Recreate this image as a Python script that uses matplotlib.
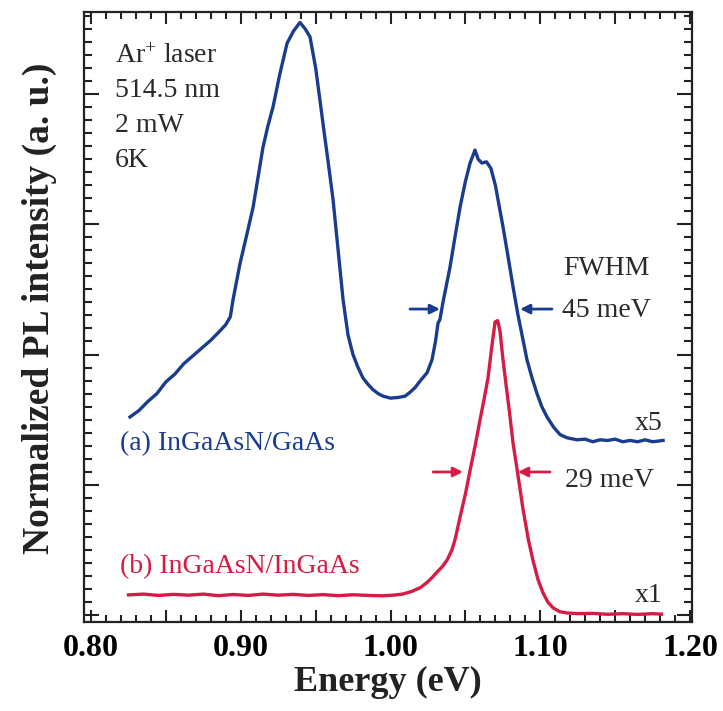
import matplotlib
matplotlib.use("Agg")
import matplotlib.pyplot as plt
from matplotlib.ticker import MultipleLocator, FixedLocator, FuncFormatter, NullFormatter

plt.rcParams["font.family"] = ["Liberation Serif", "DejaVu Serif"]
plt.rcParams["mathtext.fontset"] = "custom"
plt.rcParams["mathtext.rm"] = "Liberation Serif"
plt.rcParams["mathtext.it"] = "Liberation Serif:italic"
plt.rcParams["mathtext.bf"] = "Liberation Serif:bold"

# (a) InGaAsN/GaAs, scaled x5 and offset
energy_a = [0.826, 0.832, 0.838, 0.844, 0.850, 0.856, 0.862, 0.868, 0.874, 0.880,
            0.886, 0.890, 0.893, 0.8948, 0.8995, 0.904, 0.9082, 0.9115, 0.9148, 0.918,
            0.9215, 0.926, 0.9309, 0.935, 0.9395, 0.943, 0.9462, 0.950, 0.9529, 0.9555,
            0.9582, 0.9616, 0.965, 0.9683, 0.9716, 0.9749, 0.9783, 0.9816, 0.985, 0.9883,
            0.9917, 0.995, 1.000, 1.005, 1.0097, 1.013, 1.0163, 1.020, 1.0244, 1.0277,
            1.030, 1.0317, 1.033, 1.035, 1.0397, 1.043, 1.0464, 1.050, 1.0531, 1.0564,
            1.0585, 1.061, 1.064, 1.067, 1.070, 1.0751, 1.0785, 1.0818, 1.085, 1.0885,
            1.0911, 1.0945, 1.0978, 1.101, 1.1045, 1.109, 1.1132, 1.118, 1.1245, 1.130,
            1.135, 1.140, 1.145, 1.150, 1.155, 1.160, 1.165, 1.170, 1.175, 1.182]
intensity_a = [1.52, 1.57, 1.64, 1.70, 1.79, 1.85, 1.93, 1.99, 2.05, 2.11,
               2.18, 2.23, 2.29, 2.42, 2.70, 2.92, 3.13, 3.36, 3.59, 3.75,
               3.90, 4.15, 4.39, 4.48, 4.55, 4.50, 4.44, 4.20, 3.95, 3.72,
               3.49, 3.19, 2.80, 2.42, 2.15, 2.00, 1.90, 1.82, 1.77, 1.73,
               1.70, 1.68, 1.665, 1.67, 1.68, 1.71, 1.745, 1.80, 1.86, 1.96,
               2.10, 2.24, 2.27, 2.40, 2.67, 2.90, 3.13, 3.33, 3.47, 3.57,
               3.50, 3.47, 3.48, 3.43, 3.30, 2.98, 2.75, 2.52, 2.31, 2.11,
               1.96, 1.82, 1.70, 1.60, 1.52, 1.44, 1.385, 1.36, 1.345, 1.35,
               1.33, 1.345, 1.34, 1.35, 1.33, 1.34, 1.33, 1.345, 1.33, 1.34]

# (b) InGaAsN/InGaAs, x1
energy_b = [0.825, 0.835, 0.845, 0.855, 0.865, 0.875, 0.885, 0.895, 0.905, 0.915,
            0.925, 0.935, 0.945, 0.955, 0.965, 0.975, 0.985, 0.995, 1.002, 1.008,
            1.014, 1.020, 1.0244, 1.028, 1.0311, 1.0345, 1.0377, 1.041, 1.0431, 1.0464,
            1.050, 1.0531, 1.0565, 1.0598, 1.0625, 1.0651, 1.0675, 1.0698, 1.0715, 1.0731,
            1.0751, 1.077, 1.0795, 1.0818, 1.085, 1.0885, 1.092, 1.0951, 1.0985, 1.1018,
            1.105, 1.1085, 1.113, 1.118, 1.125, 1.135, 1.145, 1.155, 1.165, 1.175, 1.181]
intensity_b = [0.154, 0.160, 0.150, 0.158, 0.152, 0.160, 0.148, 0.157, 0.150, 0.160,
               0.152, 0.158, 0.150, 0.156, 0.148, 0.155, 0.150, 0.147, 0.152, 0.160,
               0.180, 0.210, 0.250, 0.290, 0.330, 0.370, 0.420, 0.500, 0.580, 0.750,
               0.930, 1.110, 1.300, 1.500, 1.660, 1.820, 2.050, 2.250, 2.260, 2.180,
               1.960, 1.780, 1.550, 1.320, 1.080, 0.810, 0.580, 0.420, 0.270, 0.170,
               0.100, 0.055, 0.025, 0.015, 0.010, 0.012, 0.005, 0.010, 0.004, 0.010, 0.006]

x_ticks = [0.80, 0.90, 1.00, 1.10, 1.20]

blue = "#1a3c8e"
red = "#d61c44"

fig = plt.figure(figsize=(7.23, 7.11), dpi=100)
ax = fig.add_axes([0.1162, 0.1252, 0.8409, 0.8579])

ax.plot(energy_a, intensity_a, color=blue, lw=2.4, solid_joinstyle="round")
ax.plot(energy_b, intensity_b, color=red, lw=2.4, solid_joinstyle="round")

ax.set_xlim(0.7953, 1.2013)
ax.set_ylim(-0.054, 4.63)

ax.xaxis.set_major_locator(MultipleLocator(0.05))
ax.xaxis.set_minor_locator(MultipleLocator(0.01))
ax.yaxis.set_major_locator(FixedLocator([0, 1, 2, 3, 4]))
y_minor = [k / 10 for k in range(0, 47) if k % 10 != 0]
ax.yaxis.set_minor_locator(FixedLocator(y_minor))


def fmt_x(v, pos):
    for t in x_ticks:
        if abs(v - t) < 1e-6:
            return f"{t:.2f}"
    return ""


ax.xaxis.set_major_formatter(FuncFormatter(fmt_x))
ax.yaxis.set_major_formatter(NullFormatter())
ax.yaxis.set_minor_formatter(NullFormatter())

ax.tick_params(which="both", direction="in", top=True, right=True,
               width=1.5, color="#222222")
ax.tick_params(axis="x", which="major", length=8.5)
ax.tick_params(axis="x", which="minor", length=5)
ax.tick_params(axis="y", which="major", length=11)
ax.tick_params(axis="y", which="minor", length=6, width=1.5, left=True, right=True)
ax.tick_params(axis="x", which="major", labelsize=23, pad=9)
for lab in ax.get_xticklabels():
    lab.set_fontweight("bold")
for s in ax.spines.values():
    s.set_linewidth(1.6)
    s.set_color("#222222")

ax.set_xlabel("Energy (eV)", fontsize=26, fontweight="bold", labelpad=2, color="#222222")
ax.set_ylabel("Normalized PL intensity (a. u.)", fontsize=27, fontweight="bold",
              color="#222222")
ax.yaxis.set_label_coords(-0.045, 0.515)

txt = "#2a2a2a"
tf = ax.transAxes
ax.text(0.051, 0.9164, r"Ar$^{+}$ laser", transform=tf, fontsize=20, color=txt, va="baseline")
ax.text(0.051, 0.8607, "514.5 nm", transform=tf, fontsize=20, color=txt, va="baseline")
ax.text(0.051, 0.8033, "2 mW", transform=tf, fontsize=20, color=txt, va="baseline")
ax.text(0.051, 0.7459, "6K", transform=tf, fontsize=20, color=txt, va="baseline")

ax.text(0.789, 0.5689, "FWHM", transform=tf, fontsize=20, color=txt, va="baseline")
ax.text(0.786, 0.500, "45 meV", transform=tf, fontsize=20, color=txt, va="baseline")
ax.text(0.791, 0.2213, "29 meV", transform=tf, fontsize=20, color=txt, va="baseline")
ax.text(0.9507, 0.3148, "x5", transform=tf, fontsize=20, color=txt, va="baseline", ha="right")
ax.text(0.952, 0.0328, "x1", transform=tf, fontsize=20, color=txt, va="baseline", ha="right")

ax.text(0.0592, 0.282, "(a) InGaAsN/GaAs", transform=tf, fontsize=20, color=blue, va="baseline")
ax.text(0.0592, 0.0803, "(b) InGaAsN/InGaAs", transform=tf, fontsize=20, color=red, va="baseline")

# FWHM markers
fwhm_a_y = 2.349
fwhm_b_y = 1.098
arrows = [
    (1.0130, 1.0330, fwhm_a_y, blue),
    (1.1078, 1.0865, fwhm_a_y, blue),
    (1.0284, 1.0484, fwhm_b_y, red),
    (1.1065, 1.0851, fwhm_b_y, red),
]
for x0, x1, y, c in arrows:
    ax.annotate("", xy=(x1, y), xytext=(x0, y),
                arrowprops=dict(arrowstyle="-|>", color=c, lw=2.0,
                                mutation_scale=14, shrinkA=0, shrinkB=0))

fig.savefig("out.png", dpi=100)
